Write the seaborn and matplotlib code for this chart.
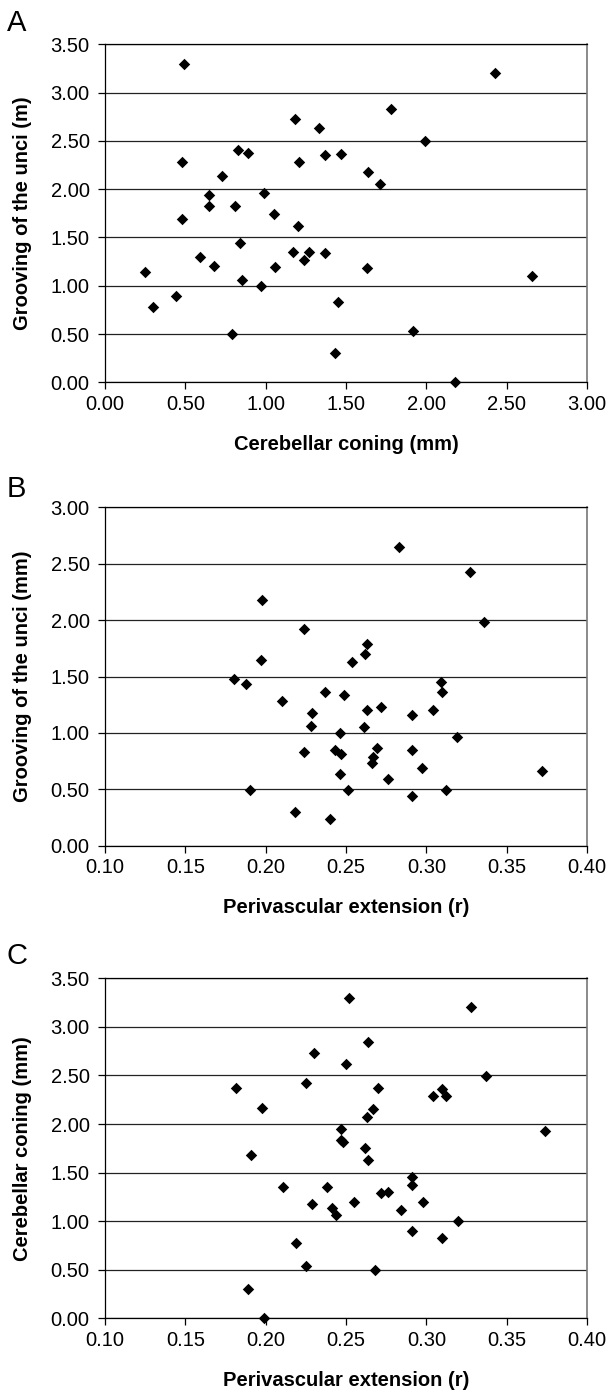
import matplotlib
matplotlib.use("Agg")
import matplotlib.pyplot as plt
import seaborn as sns
import pandas as pd
from matplotlib.ticker import FormatStrFormatter, MultipleLocator

# -------------------------------
# Data
# -------------------------------
# Panel A: cerebellar coning (x) vs grooving of the unci (y)
coning_a = [0.49, 1.18, 1.33, 0.48, 0.83, 0.89, 1.21, 1.37, 1.47, 0.73,
            0.65, 0.65, 0.81, 0.99, 1.05, 0.48, 1.20, 0.84, 0.59, 0.68,
            0.25, 1.17, 1.27, 1.24, 1.37, 1.06, 0.85, 0.97, 0.30, 0.44,
            1.45, 0.79, 1.43, 2.43, 1.78, 1.99, 1.64, 1.71, 1.63, 2.66,
            1.92, 2.18]
unci_a = [3.30, 2.73, 2.63, 2.28, 2.41, 2.37, 2.28, 2.35, 2.36, 2.14,
          1.94, 1.83, 1.83, 1.96, 1.74, 1.69, 1.62, 1.44, 1.30, 1.20,
          1.14, 1.35, 1.35, 1.27, 1.34, 1.19, 1.06, 1.00, 0.78, 0.89,
          0.83, 0.50, 0.30, 3.20, 2.83, 2.50, 2.18, 2.05, 1.18, 1.10,
          0.53, 0.00]

# Panel B: perivascular extension (x) vs grooving of the unci (y)
perivasc_b = [0.198, 0.224, 0.197, 0.180, 0.188, 0.210, 0.237, 0.249, 0.229, 0.228,
              0.246, 0.224, 0.243, 0.247, 0.246, 0.190, 0.251, 0.218, 0.240, 0.283,
              0.327, 0.336, 0.263, 0.262, 0.254, 0.309, 0.310, 0.263, 0.272, 0.291,
              0.304, 0.261, 0.319, 0.269, 0.267, 0.266, 0.291, 0.297, 0.276, 0.291,
              0.312, 0.372]
unci_b = [2.18, 1.92, 1.65, 1.48, 1.43, 1.28, 1.36, 1.34, 1.18, 1.06,
          1.00, 0.83, 0.85, 0.81, 0.64, 0.49, 0.49, 0.30, 0.24, 2.65,
          2.43, 1.98, 1.79, 1.70, 1.63, 1.45, 1.36, 1.20, 1.23, 1.16,
          1.20, 1.05, 0.96, 0.87, 0.79, 0.73, 0.85, 0.69, 0.59, 0.44,
          0.49, 0.66]

# Panel C: perivascular extension (x) vs cerebellar coning (y)
perivasc_c = [0.1815, 0.1975, 0.191, 0.225, 0.230, 0.250, 0.252, 0.247, 0.248, 0.247,
              0.211, 0.238, 0.229, 0.241, 0.244, 0.219, 0.225, 0.189, 0.328, 0.264,
              0.337, 0.270, 0.310, 0.304, 0.312, 0.267, 0.263, 0.374, 0.262, 0.264,
              0.291, 0.291, 0.272, 0.276, 0.255, 0.298, 0.284, 0.320, 0.291, 0.310,
              0.268, 0.199]
coning_c = [2.37, 2.17, 1.68, 2.42, 2.73, 2.62, 3.30, 1.95, 1.82, 1.84,
            1.35, 1.35, 1.18, 1.14, 1.06, 0.78, 0.54, 0.30, 3.20, 2.84,
            2.49, 2.37, 2.36, 2.29, 2.29, 2.15, 2.07, 1.93, 1.75, 1.63,
            1.45, 1.37, 1.29, 1.30, 1.20, 1.20, 1.12, 1.00, 0.90, 0.83,
            0.50, 0.00]

panels = [
    ("A", coning_a, unci_a, "Cerebellar coning (mm)", "Grooving of the unci (m)",
     (0.0, 3.0), 0.5, (0.0, 3.5)),
    ("B", perivasc_b, unci_b, "Perivascular extension (r)", "Grooving of the unci (mm)",
     (0.10, 0.40), 0.05, (0.0, 3.0)),
    ("C", perivasc_c, coning_c, "Perivascular extension (r)", "Cerebellar coning (mm)",
     (0.10, 0.40), 0.05, (0.0, 3.5)),
]

# -------------------------------
# Style
# -------------------------------
sns.set_style("white")
plt.rcParams['font.family'] = ['Liberation Sans', 'DejaVu Sans']
plt.rcParams['text.color'] = 'black'
plt.rcParams['axes.labelcolor'] = 'black'
plt.rcParams['xtick.color'] = 'black'
plt.rcParams['ytick.color'] = 'black'

fig = plt.figure(figsize=(6.11, 14.0), dpi=100)

# axes boxes in pixels: left, top, bottom
W, H = 611.0, 1400.0
boxes = [(105, 44.3, 382.3), (105, 507.3, 845.7), (105, 978.3, 1318.3)]
letter_y = [31, 497, 964]

for (letter, xs, ys, xlab, ylab, xlim, xstep, ylim), (l, t, b), ly in zip(panels, boxes, letter_y):
    ax = fig.add_axes([l / W, 1 - b / H, 482 / W, (b - t) / H])
    df = pd.DataFrame({"x": xs, "y": ys})

    sns.scatterplot(data=df, x="x", y="y", ax=ax, marker="D", color="black",
                    s=34, linewidth=0, zorder=3, clip_on=False)

    ax.set_xlim(*xlim)
    ax.set_ylim(*ylim)
    ax.xaxis.set_major_locator(MultipleLocator(xstep))
    ax.yaxis.set_major_locator(MultipleLocator(0.5))
    ax.xaxis.set_major_formatter(FormatStrFormatter("%.2f"))
    ax.yaxis.set_major_formatter(FormatStrFormatter("%.2f"))

    ax.grid(axis="y", color="#222222", linewidth=0.9, zorder=1)
    ax.set_axisbelow(True)

    for side in ["left", "bottom", "top"]:
        ax.spines[side].set_color("black")
        ax.spines[side].set_linewidth(0.9)
    ax.spines["right"].set_color("#777777")
    ax.spines["right"].set_linewidth(1.2)

    ax.tick_params(axis="both", direction="out", length=5, width=0.9,
                   color="black", labelcolor="black", labelsize=14.5)
    ax.tick_params(axis="x", pad=4, bottom=True)
    ax.tick_params(axis="y", pad=6, left=True)

    ax.set_xlabel(xlab, fontsize=14.5, fontweight="bold", color="black")
    ax.set_ylabel(ylab, fontsize=14.5, fontweight="bold", color="black")
    ax.xaxis.set_label_coords(0.5, -0.155)
    ax.yaxis.set_label_coords(-0.152, 0.5)

    fig.text(7 / W, 1 - ly / H, letter, fontsize=21, ha="left", va="baseline", color="black")

plt.savefig("out.png", dpi=100)
